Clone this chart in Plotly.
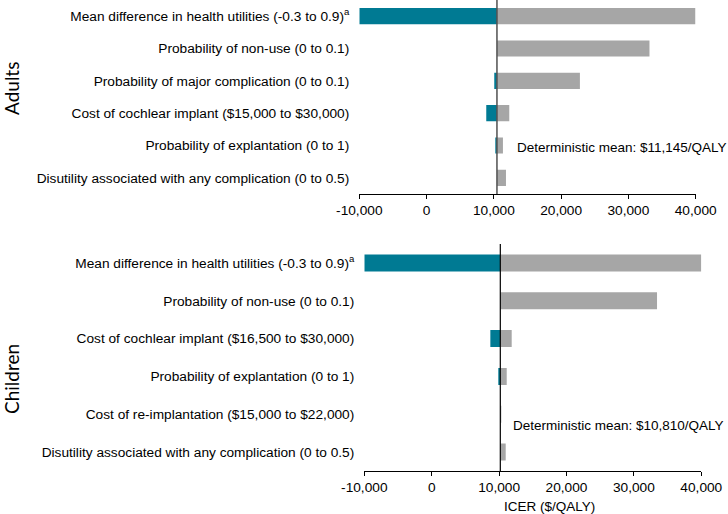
import plotly.graph_objects as go

# ==============================
# Data
# ==============================
adult_labels = [
    "Mean difference in health utilities (-0.3 to 0.9)<sup>a</sup>",
    "Probability of non-use (0 to 0.1)",
    "Probability of major complication (0 to 0.1)",
    "Cost of cochlear implant ($15,000 to $30,000)",
    "Probability of explantation (0 to 1)",
    "Disutility associated with any complication (0 to 0.5)",
]
adult_base = 10460
adult_low = [-10000, 10460, 10060, 8870, 10300, 10460]
adult_high = [39950, 33130, 22790, 12290, 11350, 11800]

child_labels = [
    "Mean difference in health utilities (-0.3 to 0.9)<sup>a</sup>",
    "Probability of non-use (0 to 0.1)",
    "Cost of cochlear implant ($16,500 to $30,000)",
    "Probability of explantation (0 to 1)",
    "Cost of re-implantation ($15,000 to $22,000)",
    "Disutility associated with any complication (0 to 0.5)",
]
child_base = 10180
child_low = [-10000, 10180, 8700, 9940, 10180, 10180]
child_high = [40000, 33430, 11870, 11130, 10250, 10980]

tick_vals = [-10000, 0, 10000, 20000, 30000, 40000]
tick_text = ["-10,000", "0", "10,000", "20,000", "30,000", "40,000"]

TEAL = "#007A93"
GRAY = "#A6A6A6"
FONT = "Liberation Sans, Arial, sans-serif"

W, H = 728, 514

fig = go.Figure()


def add_panel(labels, base, low, high, xa, ya, bw):
    fig.add_trace(go.Bar(
        y=labels, x=[base - v for v in low], base=low,
        orientation="h", marker_color=TEAL, marker_line_width=0,
        width=bw, xaxis=xa, yaxis=ya, showlegend=False,
    ))
    fig.add_trace(go.Bar(
        y=labels, x=[v - base for v in high], base=[base] * len(high),
        orientation="h", marker_color=GRAY, marker_line_width=0,
        width=bw, xaxis=xa, yaxis=ya, showlegend=False,
    ))


add_panel(adult_labels, adult_base, adult_low, adult_high, "x", "y", 0.5)
add_panel(child_labels, child_base, child_low, child_high, "x2", "y2", 0.45)

x_common = dict(
    range=[-10000, 40000], tickvals=tick_vals, ticktext=tick_text,
    showline=True, linecolor="black", linewidth=1,
    ticks="outside", ticklen=4, tickcolor="black",
    showgrid=False, zeroline=False, automargin=False,
    tickfont=dict(family=FONT, size=13.7, color="black"),
)
y_common = dict(
    type="category", range=[5.5, -0.5], showgrid=False, zeroline=False,
    showline=False, ticks="", ticklabelstandoff=9, automargin=False,
    tickfont=dict(family=FONT, size=13.7, color="black"),
)

fig.update_layout(
    template="none",
    width=W, height=H,
    margin=dict(l=0, r=0, t=0, b=0),
    paper_bgcolor="white", plot_bgcolor="white",
    barmode="overlay",
    xaxis=dict(domain=[359.3 / W, 695.7 / W], anchor="y", **x_common),
    yaxis=dict(domain=[1 - 194 / H, 1.0], anchor="x",
               categoryarray=adult_labels, **y_common),
    xaxis2=dict(domain=[364.3 / W, 701.3 / W], anchor="y2", **x_common),
    yaxis2=dict(domain=[1 - 471 / H, 1 - 244 / H], anchor="x2",
                categoryarray=child_labels, **y_common),
)

# deterministic mean lines
fig.add_shape(type="line", xref="x", yref="y domain", x0=adult_base, x1=adult_base,
              y0=0, y1=1, line=dict(color="#505050", width=1.5))
fig.add_shape(type="line", xref="x2", yref="y2 domain", x0=child_base, x1=child_base,
              y0=0, y1=1, line=dict(color="black", width=1.2))

ann_font = dict(family=FONT, size=13.5, color="black")
fig.add_annotation(text="Deterministic mean: $11,145/QALY", xref="paper", yref="paper",
                   x=515 / W, y=1 - 147.7 / H, xanchor="left", yanchor="middle",
                   showarrow=False, font=ann_font)
fig.add_annotation(text="Deterministic mean: $10,810/QALY", xref="paper", yref="paper",
                   x=511 / W, y=1 - 425 / H, xanchor="left", yanchor="middle",
                   showarrow=False, font=ann_font)
fig.add_annotation(text="ICER ($/QALY)", xref="paper", yref="paper",
                   x=549 / W, y=1 - 506.5 / H, xanchor="center", yanchor="middle",
                   showarrow=False, font=ann_font)

side_font = dict(family="Lato, sans-serif", size=19, color="black")
fig.add_annotation(text="Adults", xref="paper", yref="paper", x=11 / W, y=1 - 89 / H,
                   xanchor="center", yanchor="middle",
                   textangle=-90, showarrow=False, font=side_font)
fig.add_annotation(text="Children", xref="paper", yref="paper", x=11 / W, y=1 - 379 / H,
                   xanchor="center", yanchor="middle",
                   textangle=-90, showarrow=False, font=side_font)

# the page's default body margin would shift the figure by 8px
fig.write_html("out.html", config={"displayModeBar": False},
               post_script="document.body.style.margin = '0';")
